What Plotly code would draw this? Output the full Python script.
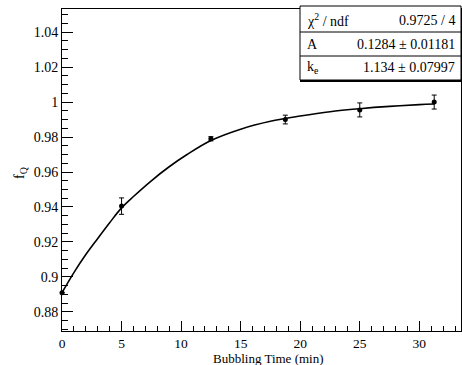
import plotly.graph_objects as go

# Data points
time_min = [0, 5, 12.5, 18.75, 25, 31.25]
f_q = [0.891, 0.9405, 0.979, 0.990, 0.9955, 1.000]
f_q_err = [0.0, 0.0047, 0.0012, 0.0025, 0.0040, 0.0040]

# Fit curve
fit_t = [0, 1, 2, 3, 4, 5, 6, 7.5, 9, 10.5, 12.5, 15, 17.5, 20, 22.5, 25, 27.5, 30, 31.25]
fit_f = [0.891, 0.9025, 0.9128, 0.922, 0.931, 0.9395, 0.946, 0.955, 0.963, 0.970,
         0.978, 0.9845, 0.989, 0.992, 0.9945, 0.9962, 0.9975, 0.9985, 0.9989]

# Axis ticks
y_ticks = [0.88, 0.9, 0.92, 0.94, 0.96, 0.98, 1.0, 1.02, 1.04]
y_tick_text = ["0.88", "0.9", "0.92", "0.94", "0.96", "0.98", "1", "1.02", "1.04"]
x_ticks = [0, 5, 10, 15, 20, 25, 30]

# Stats box text
stat_labels = ["χ<sup>2</sup> / ndf", "A", "k<sub>e</sub>"]
stat_values = ["0.9725 / 4", "0.1284 ± 0.01181", "1.134 ± 0.07997"]

FONT = "Liberation Serif"

fig = go.Figure()
fig.add_trace(go.Scatter(x=fit_t, y=fit_f, mode="lines", line=dict(color="black", width=1.6, shape="spline"),
                         hoverinfo="skip", showlegend=False))
fig.add_trace(go.Scatter(x=time_min, y=f_q, mode="markers",
                         marker=dict(color="black", size=5),
                         error_y=dict(type="data", array=f_q_err, color="black", thickness=1, width=2.5),
                         cliponaxis=False, showlegend=False))

W, H = 462, 365
L, R, T, B = 62, 1, 9, 34
pw, ph = W - L - R, H - T - B

def px(x):
    return (x - L) / pw

def py(y):
    return 1 - (y - T) / ph

shapes = []
# stats box
shapes.append(dict(type="rect", xref="paper", yref="paper", x0=px(300), x1=px(461), y0=py(80), y1=py(6),
                   line=dict(color="black", width=1), fillcolor="white", layer="above"))
shapes.append(dict(type="line", xref="paper", yref="paper", x0=px(300), x1=px(462), y0=py(81), y1=py(81),
                   line=dict(color="black", width=2)))
for yy in [32, 56]:
    shapes.append(dict(type="line", xref="paper", yref="paper", x0=px(300), x1=px(461), y0=py(yy), y1=py(yy),
                       line=dict(color="black", width=1)))

annotations = []
for i, (lab, val) in enumerate(zip(stat_labels, stat_values)):
    yy = py(20 + 24 * i)
    annotations.append(dict(xref="paper", yref="paper", x=px(305), y=yy, text=lab, showarrow=False,
                            xanchor="left", yanchor="middle", font=dict(family=FONT, size=14, color="black")))
    annotations.append(dict(xref="paper", yref="paper", x=px(457), y=yy, text=val, showarrow=False,
                            xanchor="right", yanchor="middle", font=dict(family=FONT, size=14, color="black")))

annotations.append(dict(xref="paper", yref="paper", x=px(268), y=py(358), text="Bubbling Time (min)",
                        showarrow=False, xanchor="center", yanchor="middle",
                        font=dict(family=FONT, size=13, color="black")))
annotations.append(dict(xref="paper", yref="paper", x=px(20), y=py(173), text="f<sub>Q</sub>",
                        showarrow=False, xanchor="center", yanchor="middle", textangle=-90,
                        font=dict(family=FONT, size=14, color="black")))

fig.update_layout(
    width=W, height=H,
    margin=dict(l=L, r=R, t=T, b=B),
    paper_bgcolor="white", plot_bgcolor="white",
    font=dict(family=FONT, size=14, color="black"),
    shapes=shapes, annotations=annotations,
    xaxis=dict(range=[0, 33.5], tickvals=x_ticks, ticks="inside", ticklen=10, tickwidth=1, tickcolor="black",
               minor=dict(dtick=1, ticks="inside", ticklen=5, tickcolor="black", tickwidth=1),
               showline=True, linecolor="black", linewidth=1, mirror=True, showgrid=False, zeroline=False,
               tickfont=dict(family=FONT, size=13.5)),
    yaxis=dict(range=[0.8691, 1.0532], tickvals=y_ticks, ticktext=y_tick_text, ticks="inside", ticklen=11,
               tickwidth=1, tickcolor="black",
               minor=dict(dtick=0.005, tick0=0.88, ticks="inside", ticklen=6, tickcolor="black", tickwidth=1),
               showline=True, linecolor="black", linewidth=1, mirror=True, showgrid=False, zeroline=False,
               tickfont=dict(family=FONT, size=14)),
)

fig.write_html("out.html", config={"displayModeBar": False},
               post_script="document.body.style.margin='0';document.body.style.overflow='hidden';")
